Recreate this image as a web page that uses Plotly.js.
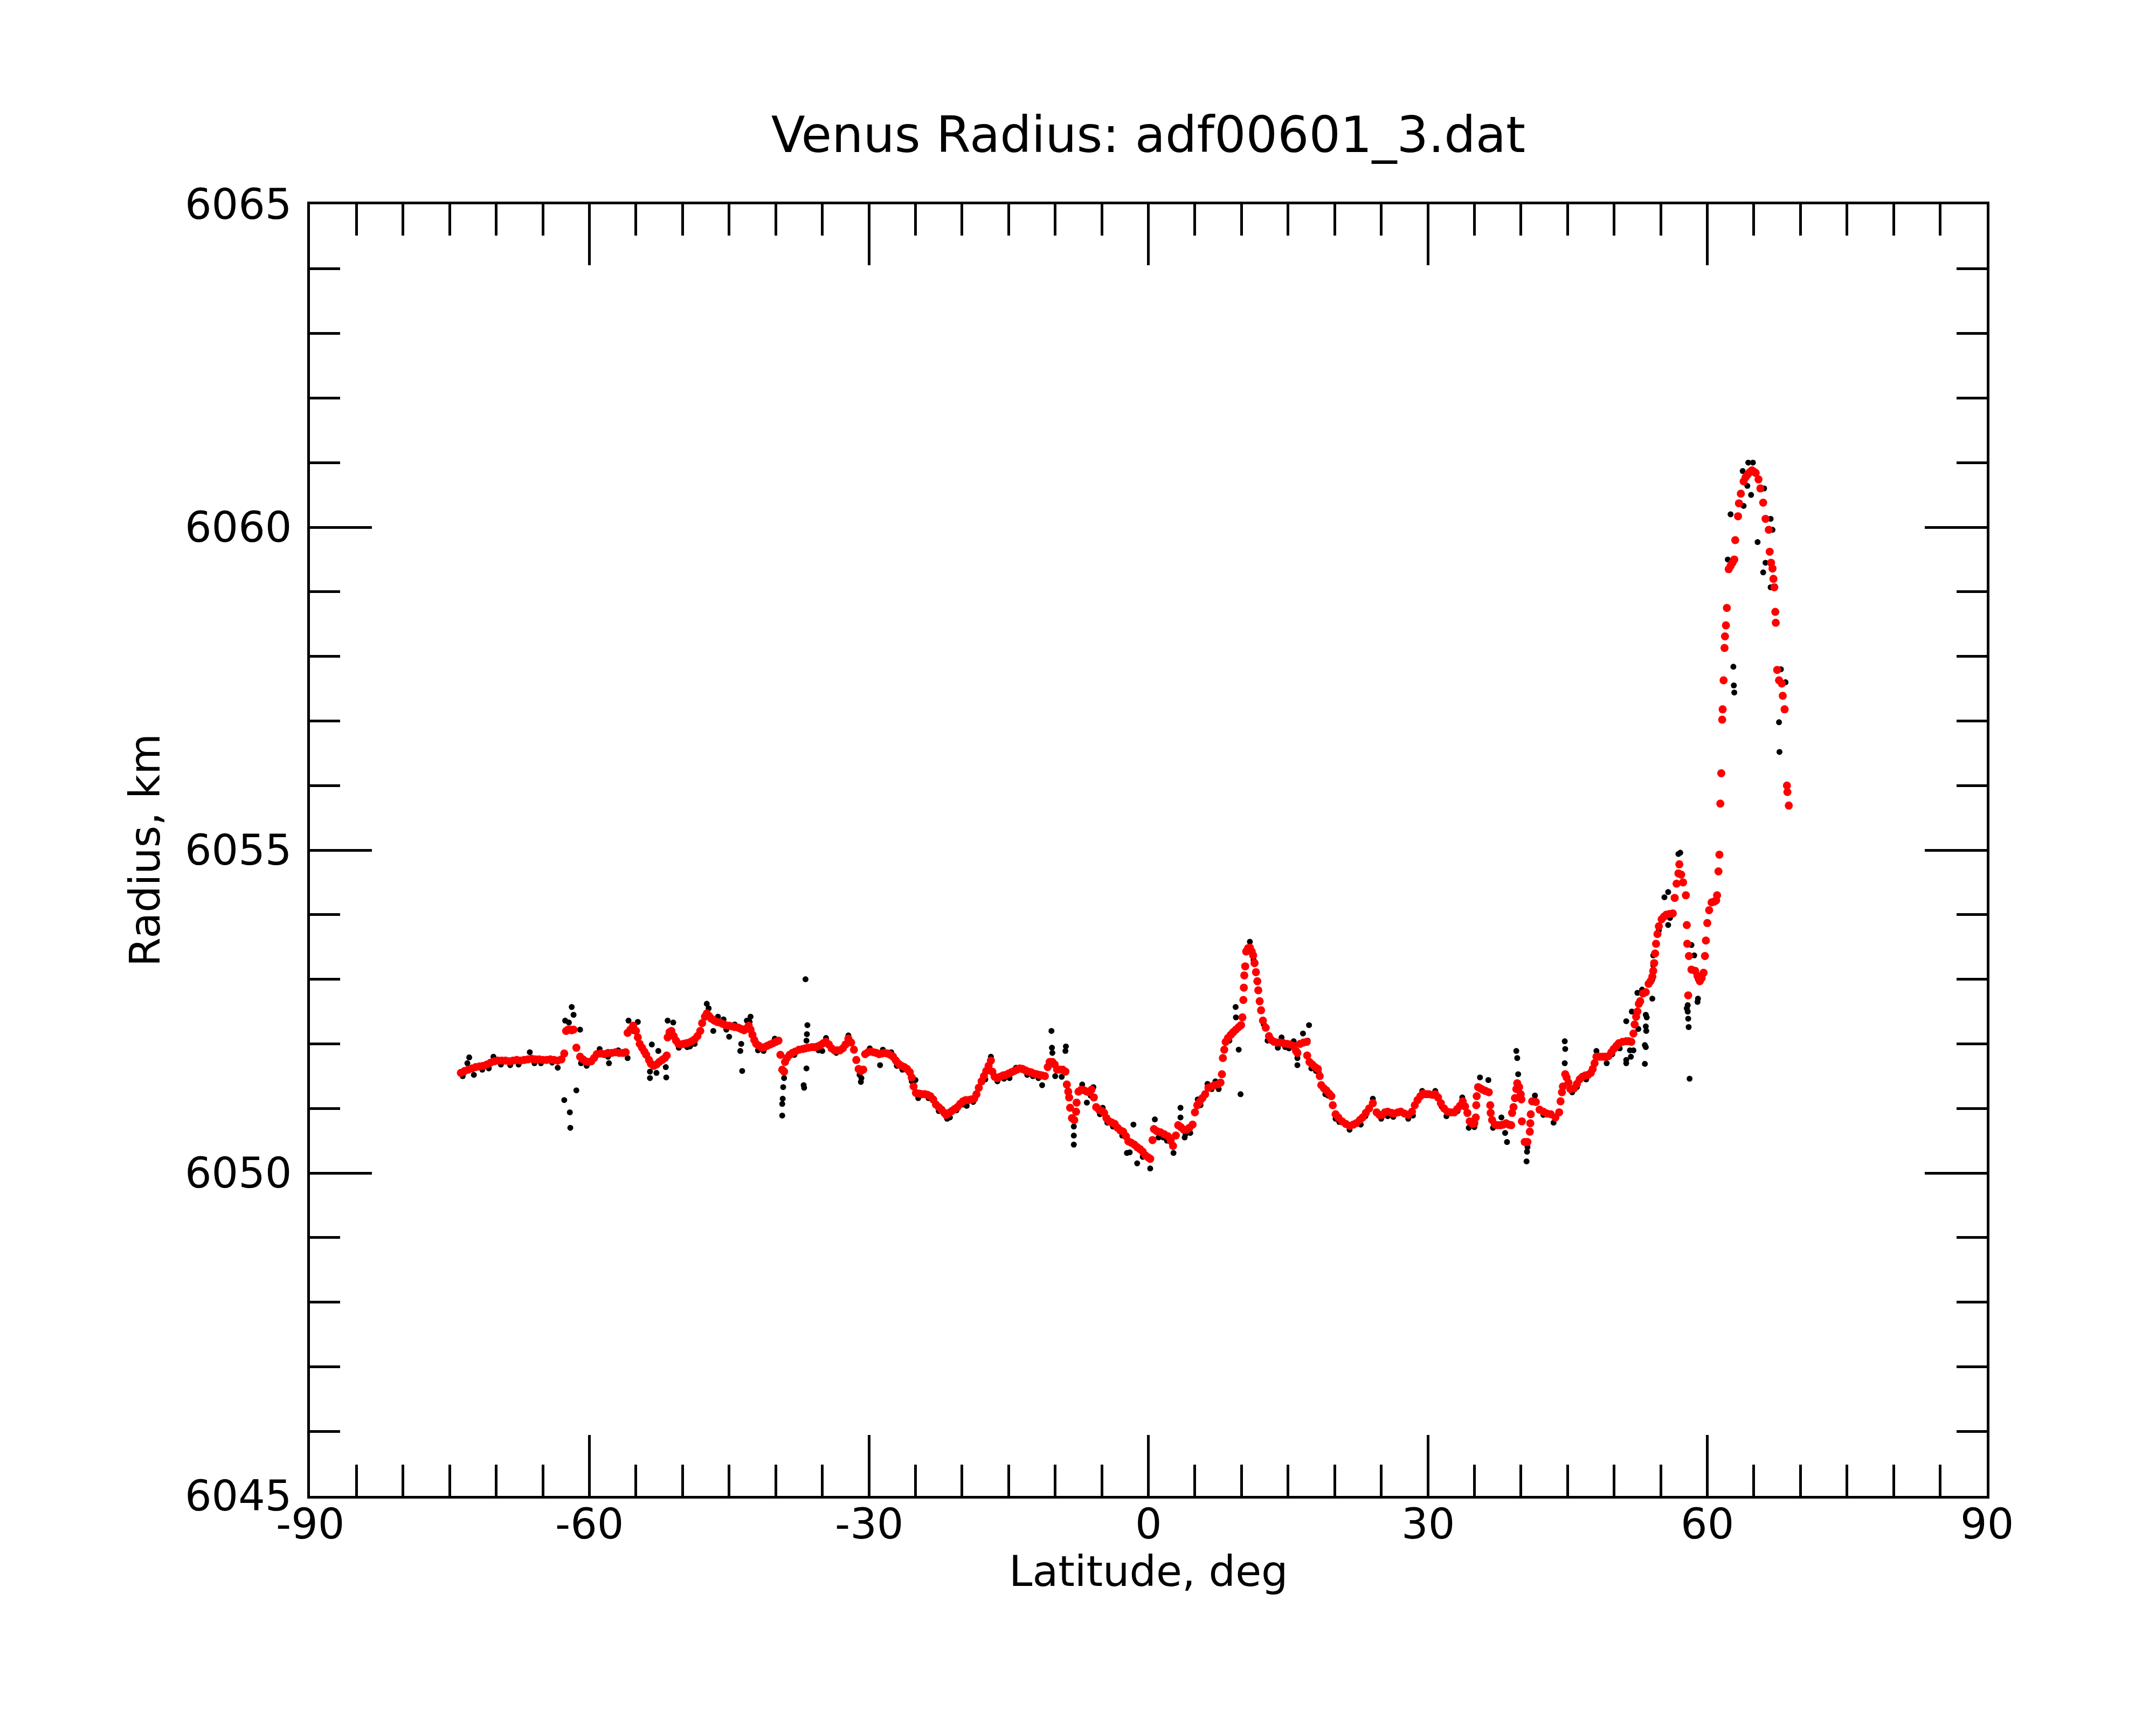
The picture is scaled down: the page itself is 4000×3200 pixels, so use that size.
<!DOCTYPE html>
<html>
<head>
<meta charset="utf-8">
<script src="https://cdn.plot.ly/plotly-3.0.1.min.js"></script>
<style>
  html, body { margin: 0; padding: 0; background: #fff; }
  #plot { width: 4000px; height: 3200px; }
</style>
</head>
<body>
<div id="plot"></div>
<script>
// smoothed profile (red), latitude in deg, radius in km
var red_lat = [
  -73.8,-73.4,-73.0,-72.6,-72.2,-71.8,-71.4,-71.0,-70.6,-70.2,-69.8,-69.4,-69.0,-68.6,-68.2,-67.8,-67.4,-67.0,-66.6,-66.2,
  -65.8,-65.4,-65.0,-64.6,-64.2,-63.8,-63.4,-63.0,-62.7,-62.5,-62.3,-62.1,-61.9,-61.7,-61.4,-61.0,-60.7,-60.4,-60.1,-59.8,
  -59.5,-59.2,-58.8,-58.4,-58.0,-57.6,-57.2,-56.8,-56.4,-56.1,-55.9,-55.6,-55.3,-55.0,-54.8,-54.6,-54.35,-54.1,-53.9,-53.6,
  -53.4,-53.1,-52.8,-52.5,-52.2,-51.9,-51.7,-51.6,-51.4,-51.2,-50.95,-50.7,-50.45,-50.2,-49.9,-49.6,-49.3,-49.0,-48.7,-48.4,
  -48.1,-47.9,-47.6,-47.4,-47.15,-46.9,-46.6,-46.3,-46.0,-45.7,-45.4,-45.0,-44.7,-44.4,-44.0,-43.7,-43.4,-43.1,-42.9,-42.7,
  -42.5,-42.3,-42.1,-41.8,-41.5,-41.2,-40.9,-40.6,-40.3,-40.0,-39.7,-39.5,-39.3,-39.1,-39.0,-38.8,-38.5,-38.2,-37.9,-37.5,
  -37.1,-36.8,-36.5,-36.1,-35.8,-35.5,-35.2,-34.9,-34.6,-34.3,-34.0,-33.7,-33.4,-33.1,-32.8,-32.5,-32.2,-31.9,-31.6,-31.35,
  -31.1,-30.85,-30.6,-30.4,-30.1,-29.8,-29.5,-29.2,-28.9,-28.6,-28.3,-28.0,-27.7,-27.4,-27.1,-26.8,-26.5,-26.2,-25.9,-25.6,
  -25.4,-25.2,-24.95,-24.6,-24.3,-24.0,-23.7,-23.4,-23.1,-22.8,-22.5,-22.2,-21.9,-21.7,-21.4,-21.1,-20.8,-20.5,-20.2,-19.9,
  -19.6,-19.3,-19.0,-18.7,-18.45,-18.2,-17.9,-17.65,-17.4,-17.15,-16.9,-16.75,-16.5,-16.2,-15.9,-15.6,-15.3,-15.0,-14.7,-14.4,
  -14.1,-13.8,-13.5,-13.2,-12.9,-12.6,-12.3,-12.0,-11.7,-11.4,-11.1,-10.8,-10.6,-10.3,-10.05,-9.8,-9.5,-9.2,-8.9,-8.75,
  -8.6,-8.5,-8.4,-8.2,-7.95,-7.75,-7.7,-7.5,-7.2,-6.9,-6.6,-6.35,-6.1,-5.85,-5.6,-5.3,-5.0,-4.75,-4.5,-4.2,
  -3.9,-3.6,-3.3,-3.0,-2.7,-2.4,-2.15,-1.85,-1.5,-1.2,-0.9,-0.6,-0.3,0.0,0.2,0.45,0.6,0.9,1.3,1.7,
  2.1,2.4,2.65,2.95,3.2,3.5,3.8,4.1,4.4,4.75,5.0,5.25,5.5,5.8,6.1,6.45,6.8,7.1,7.45,7.75,
  7.9,8.0,8.15,8.3,8.55,8.85,9.1,9.4,9.7,9.95,10.1,10.2,10.25,10.3,10.4,10.5,10.7,10.9,11.1,11.25,
  11.4,11.55,11.7,11.8,11.95,12.1,12.3,12.6,12.95,13.2,13.5,13.8,14.1,14.5,14.9,15.2,15.6,15.85,16.0,16.3,
  16.65,17.0,17.05,17.3,17.6,17.9,18.2,18.4,18.56,18.85,19.1,19.4,19.65,19.8,20.1,20.4,20.8,21.2,21.6,22.0,
  22.3,22.7,23.0,23.35,23.7,24.1,24.5,24.8,25.1,25.4,25.7,26.1,26.4,26.8,27.1,27.5,27.9,28.3,28.6,28.9,
  29.2,29.5,29.8,30.1,30.5,30.8,31.1,31.4,31.75,32.1,32.5,32.85,33.15,33.45,33.75,34.0,34.25,34.5,34.8,35.0,
  35.15,35.2,35.25,35.4,35.65,35.9,36.2,36.55,36.7,36.75,36.9,37.2,37.5,37.8,38.1,38.4,38.7,38.95,39.05,39.2,
  39.35,39.5,39.6,39.8,39.97,40.05,40.1,40.4,40.7,40.95,41.0,41.05,41.2,41.6,42.0,42.4,42.8,43.2,43.7,44.1,
  44.25,44.4,44.5,44.75,44.9,45.1,45.3,45.7,46.0,46.3,46.6,46.9,47.2,47.5,47.7,47.9,48.1,48.45,48.8,49.1,
  49.4,49.7,49.95,50.25,50.5,50.9,51.3,51.6,51.85,52.07,52.2,52.36,52.5,52.65,52.8,53.1,53.4,53.7,53.9,54.1,
  54.2,54.3,54.4,54.5,54.65,54.8,55.1,55.35,55.6,55.95,56.3,56.5,56.7,56.9,57.0,57.2,57.4,57.7,57.8,57.85,
  57.95,58.03,58.3,58.7,58.95,59.2,59.4,59.6,59.75,59.85,60.0,60.2,60.46,60.7,60.95,61.05,61.2,61.3,61.4,61.5,
  61.6,61.65,61.75,61.85,61.9,62.0,62.1,62.3,62.5,62.7,62.9,63.0,63.3,63.4,63.6,63.9,64.1,64.3,64.55,64.8,
  65.0,65.2,65.5,65.7,66.0,66.25,66.6,66.7,66.85,67.0,67.1,67.2,67.3,67.35,67.5,67.7,68.0,68.1,68.3,68.55,
  68.6,68.75
];
var red_r = [
  6051.55,6051.58,6051.60,6051.62,6051.64,6051.65,6051.66,6051.68,6051.71,6051.73,6051.74,6051.74,6051.74,6051.73,6051.74,6051.75,6051.74,6051.75,6051.76,6051.77,
  6051.76,6051.76,6051.75,6051.75,6051.76,6051.75,6051.74,6051.76,6051.85,6052.20,6052.22,6052.22,6052.21,6052.22,6051.94,6051.80,6051.76,6051.73,6051.72,6051.73,
  6051.78,6051.84,6051.85,6051.84,6051.86,6051.86,6051.87,6051.86,6051.86,6051.87,6052.17,6052.22,6052.28,6052.20,6052.10,6052.00,6051.94,6051.88,6051.83,6051.75,
  6051.69,6051.66,6051.68,6051.72,6051.75,6051.78,6051.82,6052.10,6052.18,6052.20,6052.12,6052.05,6052.00,6051.99,6052.00,6052.01,6052.02,6052.04,6052.07,6052.12,
  6052.20,6052.32,6052.42,6052.47,6052.43,6052.39,6052.36,6052.34,6052.33,6052.31,6052.29,6052.28,6052.27,6052.26,6052.25,6052.23,6052.21,6052.24,6052.28,6052.22,
  6052.14,6052.06,6052.00,6051.97,6051.94,6051.95,6051.97,6051.99,6052.01,6052.03,6052.05,6051.83,6051.60,6051.57,6051.72,6051.78,6051.83,6051.86,6051.88,6051.91,
  6051.92,6051.93,6051.94,6051.95,6051.95,6051.96,6051.98,6052.01,6052.03,6051.99,6051.93,6051.90,6051.90,6051.90,6051.93,6051.99,6052.08,6052.02,6051.91,6051.75,
  6051.61,6051.58,6051.60,6051.84,6051.87,6051.88,6051.87,6051.86,6051.84,6051.85,6051.86,6051.85,6051.83,6051.80,6051.74,6051.69,6051.66,6051.64,6051.61,6051.56,
  6051.48,6051.34,6051.24,6051.23,6051.22,6051.22,6051.21,6051.19,6051.14,6051.06,6051.02,6050.98,6050.93,6050.90,6050.93,6050.96,6050.99,6051.02,6051.07,6051.11,
  6051.13,6051.13,6051.14,6051.15,6051.22,6051.32,6051.42,6051.50,6051.58,6051.66,6051.74,6051.57,6051.49,6051.47,6051.49,6051.51,6051.52,6051.54,6051.56,6051.58,
  6051.60,6051.62,6051.61,6051.59,6051.57,6051.56,6051.54,6051.53,6051.52,6051.51,6051.50,6051.64,6051.72,6051.72,6051.68,6051.60,6051.60,6051.60,6051.57,6051.37,
  6051.26,6051.17,6051.01,6050.85,6050.82,6050.95,6051.09,6051.26,6051.29,6051.28,6051.26,6051.25,6051.29,6051.17,6051.02,6050.98,6050.96,6050.93,6050.85,6050.80,
  6050.78,6050.76,6050.70,6050.66,6050.64,6050.57,6050.49,6050.47,6050.44,6050.40,6050.37,6050.33,6050.27,6050.24,6050.22,6050.51,6050.68,6050.65,6050.63,6050.60,
  6050.57,6050.50,6050.42,6050.58,6050.74,6050.71,6050.67,6050.67,6050.70,6050.75,6050.94,6051.05,6051.10,6051.16,6051.22,6051.32,6051.34,6051.36,6051.37,6051.40,
  6051.53,6051.78,6051.91,6052.03,6052.09,6052.14,6052.18,6052.22,6052.26,6052.29,6052.41,6052.68,6052.87,6053.06,6053.20,6053.43,6053.48,6053.49,6053.43,6053.37,
  6053.25,6053.11,6052.97,6052.83,6052.66,6052.52,6052.36,6052.25,6052.12,6052.06,6052.03,6052.02,6052.02,6052.01,6052.00,6051.99,6051.97,6051.89,6051.86,6052.00,
  6052.02,6052.03,6051.82,6051.72,6051.68,6051.64,6051.61,6051.50,6051.36,6051.31,6051.28,6051.23,6051.19,6051.05,6050.91,6050.86,6050.80,6050.76,6050.73,6050.75,
  6050.77,6050.82,6050.86,6050.93,6051.00,6051.08,6050.94,6050.90,6050.90,6050.94,6050.95,6050.93,6050.92,6050.94,6050.95,6050.92,6050.90,6050.95,6051.05,6051.13,
  6051.19,6051.23,6051.22,6051.22,6051.21,6051.22,6051.17,6051.08,6051.00,6050.95,6050.94,6050.94,6050.99,6051.04,6051.11,6051.03,6050.93,6050.80,6050.76,6050.77,
  6050.86,6051.05,6051.19,6051.33,6051.31,6051.29,6051.27,6051.25,6051.05,6050.93,6050.82,6050.75,6050.74,6050.74,6050.75,6050.77,6050.75,6050.74,6050.93,6051.02,
  6051.16,6051.30,6051.39,6051.33,6051.22,6051.14,6050.80,6050.48,6050.48,6050.64,6050.77,6050.91,6051.11,6051.10,6050.98,6050.95,6050.92,6050.91,6050.86,6050.94,
  6051.11,6051.25,6051.34,6051.53,6051.48,6051.40,6051.30,6051.31,6051.38,6051.45,6051.49,6051.51,6051.52,6051.55,6051.61,6051.70,6051.80,6051.80,6051.80,6051.80,
  6051.81,6051.87,6051.92,6051.97,6052.01,6052.03,6052.04,6052.04,6052.03,6052.16,6052.30,6052.42,6052.50,6052.62,6052.66,6052.78,6052.80,6052.93,6052.97,6053.04,
  6053.13,6053.25,6053.40,6053.55,6053.70,6053.82,6053.93,6053.97,6054.00,6054.01,6054.02,6054.26,6054.48,6054.64,6054.78,6054.62,6054.50,6054.30,6053.84,6053.55,
  6052.75,6053.36,6053.15,6053.13,6053.05,6052.97,6053.02,6053.10,6053.36,6053.60,6053.87,6054.07,6054.19,6054.20,6054.22,6054.30,6054.67,6054.93,6055.72,6056.19,
  6057.02,6057.18,6057.63,6058.13,6058.31,6058.48,6058.75,6059.35,6059.40,6059.45,6059.50,6059.80,6060.17,6060.37,6060.52,6060.71,6060.77,6060.81,6060.85,6060.88,
  6060.86,6060.84,6060.74,6060.60,6060.38,6060.13,6059.96,6059.62,6059.45,6059.36,6059.20,6059.07,6058.69,6058.52,6057.79,6057.63,6057.58,6057.39,6057.18,6056.00,
  6055.90,6055.69
];

// raw measurements (black), drawn under the red profile
var black_lat = [
  -73.6,-73.1,-72.9,-72.4,-71.5,-70.3,-69.5,-68.5,-67.6,-66.4,-65.2,-64.0,-63.4,-62.6,-62.2,-61.9,-61.7,-61.0,-61.4,-62.7,
  -62.1,-62.05,-60.3,-58.9,-57.9,-56.9,-55.9,-55.8,-54.8,-55.3,-53.3,-52.6,-53.5,-53.5,-52.8,-51.8,-51.75,-51.6,-51.0,-50.4,
  -49.5,-48.7,-47.4,-47.2,-46.7,-46.2,-45.6,-45.0,-44.4,-43.7,-43.8,-43.6,-43.1,-42.7,-42.8,-41.3,-40.1,-39.1,-39.2,-39.25,
  -39.3,-39.3,-38.0,-36.8,-36.6,-36.65,-36.7,-36.7,-37.0,-36.95,-35.4,-34.6,-33.5,-32.2,-30.86,-30.8,-29.9,-28.8,-28.5,-27.6,
  -26.4,-25.4,-24.7,-23.6,-22.5,-21.6,-20.6,-19.5,-18.8,-17.5,-16.9,-16.2,-15.5,-14.2,-13.0,-11.4,-11.8,-10.4,-10.35,-10.3,
  -10.0,-9.3,-8.85,-8.9,-8.0,-8.0,-8.0,-7.1,-6.6,-5.9,-4.9,-4.4,-3.4,-2.3,-2.0,-1.6,-1.2,-0.6,0.2,0.7,
  1.1,2.0,2.7,3.45,3.45,3.9,4.5,5.3,6.35,7.55,7.2,8.7,9.37,9.4,9.7,9.9,10.9,11.3,12.8,13.9,
  14.3,15.1,15.6,16.0,16.0,16.6,17.25,17.1,17.5,18.3,19.3,20.5,21.6,22.8,24.1,25.0,26.3,27.9,29.4,30.8,
  32.0,33.7,34.4,35.0,35.6,36.5,37.9,38.3,38.5,39.5,39.6,39.7,40.7,40.65,40.6,41.5,43.5,44.7,44.75,44.7,
  45.5,47.0,48.1,49.2,50.6,51.3,51.3,51.7,52.07,51.8,51.3,51.9,52.5,52.6,53.0,53.3,53.3,53.4,53.4,53.5,
  53.45,53.4,54.1,54.1,54.2,54.2,55.4,55.8,55.8,56.9,57.1,57.9,57.9,57.95,58.0,57.8,58.1,58.3,58.6,59.0,
  59.0,58.95,62.2,62.5,62.8,62.85,62.9,63.8,63.9,64.3,64.4,64.7,64.9,65.4,66.0,66.25,67.0,66.8,66.1,66.8,
  67.9,68.4,67.7,67.75,
  -70.8,-65.9,-60.9,-58.0,-49.2,-45.3,-41.9,-35.0,-31.0,-27.0,-25.0,-23.0,-21.3,-19.9,-14.9,-12.4,-6.2,-5.2,-3.8,-2.8,
  1.6,4.0,5.6,6.8,12.4,14.7,18.0,19.0,20.1,23.3,25.7,28.4,31.5,33.2,37.0,42.4,46.0,49.8,54.8,56.0
];
var black_r = [
  6051.50,6051.70,6051.79,6051.52,6051.60,6051.80,6051.68,6051.67,6051.68,6051.87,6051.70,6051.71,6051.63,6052.36,6052.33,6052.57,6052.45,6052.22,6051.28,6051.13,
  6050.94,6050.70,6051.66,6051.92,6051.70,6051.90,6051.78,6052.36,6052.34,6052.20,6051.99,6051.89,6051.57,6051.47,6051.55,6051.64,6051.48,6052.36,6052.33,6051.94,
  6051.95,6052.00,6052.62,6052.55,6052.20,6052.42,6052.38,6052.11,6052.30,6052.00,6051.89,6051.58,6052.36,6052.42,6052.34,6051.89,6052.08,6051.47,6051.33,6051.15,
  6051.07,6050.89,6051.83,6053.00,6052.29,6052.15,6052.05,6051.62,6051.36,6051.32,6051.90,6052.09,6051.86,6052.13,6051.41,6051.47,6051.93,6051.67,6051.91,6051.87,
  6051.60,6051.42,6051.16,6051.16,6050.96,6050.84,6050.97,6051.04,6051.10,6051.45,6051.80,6051.42,6051.46,6051.63,6051.52,6051.36,6051.47,6052.20,6051.94,6051.86,
  6051.50,6051.49,6051.96,6051.89,6050.72,6050.58,6050.44,6051.37,6051.09,6051.33,6051.01,6050.78,6050.70,6050.31,6050.32,6050.75,6050.15,6050.25,6050.07,6050.83,
  6050.55,6050.50,6050.31,6051.01,6050.86,6050.55,6050.62,6051.14,6051.38,6051.30,6051.42,6052.05,6052.57,6052.41,6051.91,6051.22,6053.58,6053.30,6052.05,6051.94,
  6052.10,6051.93,6052.04,6051.78,6051.67,6052.16,6052.29,6052.05,6051.62,6051.55,6051.20,6050.79,6050.67,6050.75,6051.15,6050.84,6050.87,6050.84,6051.27,6051.27,
  6050.88,6051.17,6050.70,6050.71,6051.48,6051.44,6050.86,6050.62,6050.48,6051.89,6051.78,6051.53,6050.40,6050.33,6050.18,6051.20,6050.78,6052.04,6051.92,6051.70,
  6051.25,6051.45,6051.89,6051.70,6051.93,6051.75,6051.70,6051.90,6051.90,6051.80,6052.35,6052.50,6052.79,6052.23,6052.84,6051.98,6051.69,6052.27,6052.45,6052.41,
  6052.20,6051.95,6052.70,6053.00,6053.37,6053.22,6054.27,6054.35,6053.84,6054.94,6054.96,6052.60,6052.50,6052.39,6052.26,6052.55,6051.46,6053.53,6053.37,6053.00,
  6052.70,6052.65,6059.50,6060.20,6057.84,6057.55,6057.44,6060.87,6060.33,6060.64,6061.00,6060.50,6061.00,6059.77,6059.30,6059.45,6059.96,6060.13,6060.60,6059.07,
  6057.80,6057.60,6056.98,6056.52,
  6051.62,6051.70,6051.70,6051.80,6051.96,6052.22,6051.90,6051.89,6051.52,6051.66,6051.44,6051.14,6050.86,6051.06,6051.47,6051.50,6051.20,6050.91,6050.72,6050.58,
  6050.55,6050.60,6051.05,6051.30,6052.30,6051.95,6051.58,6051.22,6050.84,6050.88,6050.88,6050.89,6051.03,6050.96,6050.70,6050.90,6051.33,6051.84,6053.76,6053.95
];

var x_ticks = [-90, -60, -30, 0, 30, 60, 90];
var x_tick_text = ['-90', '-60', '-30', '0', '30', '60', '90'];
var y_ticks = [6045, 6050, 6055, 6060, 6065];

var font_family = 'DejaVu Sans, sans-serif';
var text_font = {family: font_family, size: 78, color: '#000000'};

var trace_raw = {
    type: 'scatter',
    mode: 'markers',
    x: black_lat,
    y: black_r,
    marker: {color: '#000000', size: 11},
    hoverinfo: 'skip'
};

var trace_smooth = {
    type: 'scatter',
    mode: 'markers',
    x: red_lat,
    y: red_r,
    marker: {color: '#ff0000', size: 15},
    hoverinfo: 'skip'
};

// x tick labels written with a plain hyphen, as in the original plot
var x_labels = x_ticks.map(function (v, i) {
    return {
        text: x_tick_text[i],
        xref: 'x', yref: 'paper',
        x: v, y: -0.0217,
        xanchor: 'center', yanchor: 'middle',
        showarrow: false,
        font: text_font
    };
});

var x_title = {
    text: 'Latitude, deg',
    xref: 'paper', yref: 'paper',
    x: 0.5, y: -0.0585,
    xanchor: 'center', yanchor: 'middle',
    showarrow: false,
    font: text_font
};

var layout = {
    width: 4000,
    height: 3200,
    paper_bgcolor: '#ffffff',
    plot_bgcolor: '#ffffff',
    showlegend: false,
    margin: {l: 575, r: 314, t: 379, b: 425, pad: 0},
    font: {family: font_family, color: '#000000', size: 78},
    title: {
        text: 'Venus Radius: adf00601_3.dat',
        font: {family: font_family, size: 92, color: '#000000'},
        x: 0.5, xref: 'paper', xanchor: 'center',
        y: 0.922, yref: 'container', yanchor: 'middle'
    },
    annotations: x_labels.concat([x_title]),
    xaxis: {
        range: [-90, 90],
        tickmode: 'array',
        tickvals: x_ticks,
        showticklabels: false,
        ticks: 'inside',
        ticklen: 113,
        tickwidth: 5,
        tickcolor: '#000000',
        minor: {tickmode: 'linear', tick0: -90, dtick: 5, ticks: 'inside', ticklen: 58, tickwidth: 5, tickcolor: '#000000', showgrid: false},
        showline: true,
        linewidth: 5,
        linecolor: '#000000',
        mirror: 'allticks',
        showgrid: false,
        zeroline: false
    },
    yaxis: {
        range: [6045, 6065],
        tickmode: 'array',
        tickvals: y_ticks,
        ticks: 'inside',
        ticklen: 115,
        tickwidth: 5,
        tickcolor: '#000000',
        ticklabelstandoff: 13,
        minor: {tickmode: 'linear', tick0: 6045, dtick: 1, ticks: 'inside', ticklen: 56, tickwidth: 5, tickcolor: '#000000', showgrid: false},
        showline: true,
        linewidth: 5,
        linecolor: '#000000',
        mirror: 'allticks',
        showgrid: false,
        zeroline: false,
        tickfont: text_font,
        title: {text: 'Radius, km', font: text_font, standoff: 22}
    }
};

Plotly.newPlot('plot', [trace_raw, trace_smooth], layout, {staticPlot: true});
</script>
</body>
</html>
